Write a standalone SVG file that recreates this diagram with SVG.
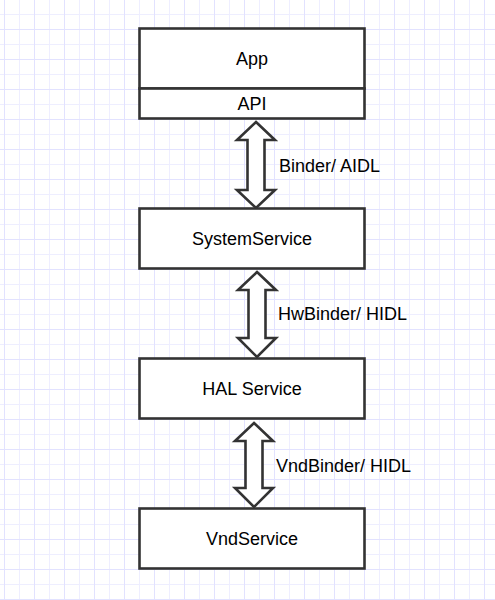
<svg xmlns="http://www.w3.org/2000/svg" width="495" height="600" viewBox="0 0 495 600">
  <defs>
    <pattern id="grid" x="4" y="-1" width="30" height="30" patternUnits="userSpaceOnUse">
      <path d="M15.5 0V30M0 15.5H30" stroke="#eeeeff" stroke-width="1" fill="none"/>
      <path d="M0.5 0V30M0 0.5H30" stroke="#e2e2ff" stroke-width="1" fill="none"/>
    </pattern>
    <style>
      .box { fill: #ffffff; stroke: #333333; stroke-width: 2.6; }
      .arrow { fill: #ffffff; stroke: #333333; stroke-width: 2.6; stroke-linejoin: miter; }
      .lbl { font-family: "Liberation Sans", Arial, sans-serif; font-size: 18px; fill: #000000; }
      .mid { text-anchor: middle; }
    </style>
  </defs>
  <rect x="0" y="0" width="495" height="600" fill="#ffffff"/>
  <rect x="0" y="0" width="495" height="600" fill="url(#grid)"/>

  <g id="connectors">
    <polygon class="arrow" points="256,122 275,140 264.5,140 264.5,190 275,190 256,208 237,190 247.5,190 247.5,140 237,140"/>
    <polygon class="arrow" points="257,272 276,290 265.5,290 265.5,338 276,338 257,357 238,338 248.5,338 248.5,290 238,290"/>
    <polygon class="arrow" points="254,423 273,441 262.5,441 262.5,488 273,488 254,507 235,488 245.5,488 245.5,441 235,441"/>
    <text class="lbl" x="279" y="172">Binder/ AIDL</text>
    <text class="lbl" x="278" y="320">HwBinder/ HIDL</text>
    <text class="lbl" x="276" y="472">VndBinder/ HIDL</text>
  </g>

  <g id="app">
    <rect class="box" x="139.5" y="28.5" width="225" height="60"/>
    <text class="lbl mid" x="252" y="64.5">App</text>
  </g>
  <g id="api">
    <rect class="box" x="139.5" y="88.5" width="225" height="30"/>
    <text class="lbl mid" x="252" y="109.5">API</text>
  </g>
  <g id="systemservice">
    <rect class="box" x="139.5" y="208.5" width="225" height="60"/>
    <text class="lbl mid" x="252" y="244.5">SystemService</text>
  </g>
  <g id="halservice">
    <rect class="box" x="139.5" y="358.5" width="225" height="60"/>
    <text class="lbl mid" x="252" y="394.5">HAL Service</text>
  </g>
  <g id="vndservice">
    <rect class="box" x="139.5" y="508.5" width="225" height="60"/>
    <text class="lbl mid" x="252" y="544.5">VndService</text>
  </g>
</svg>
